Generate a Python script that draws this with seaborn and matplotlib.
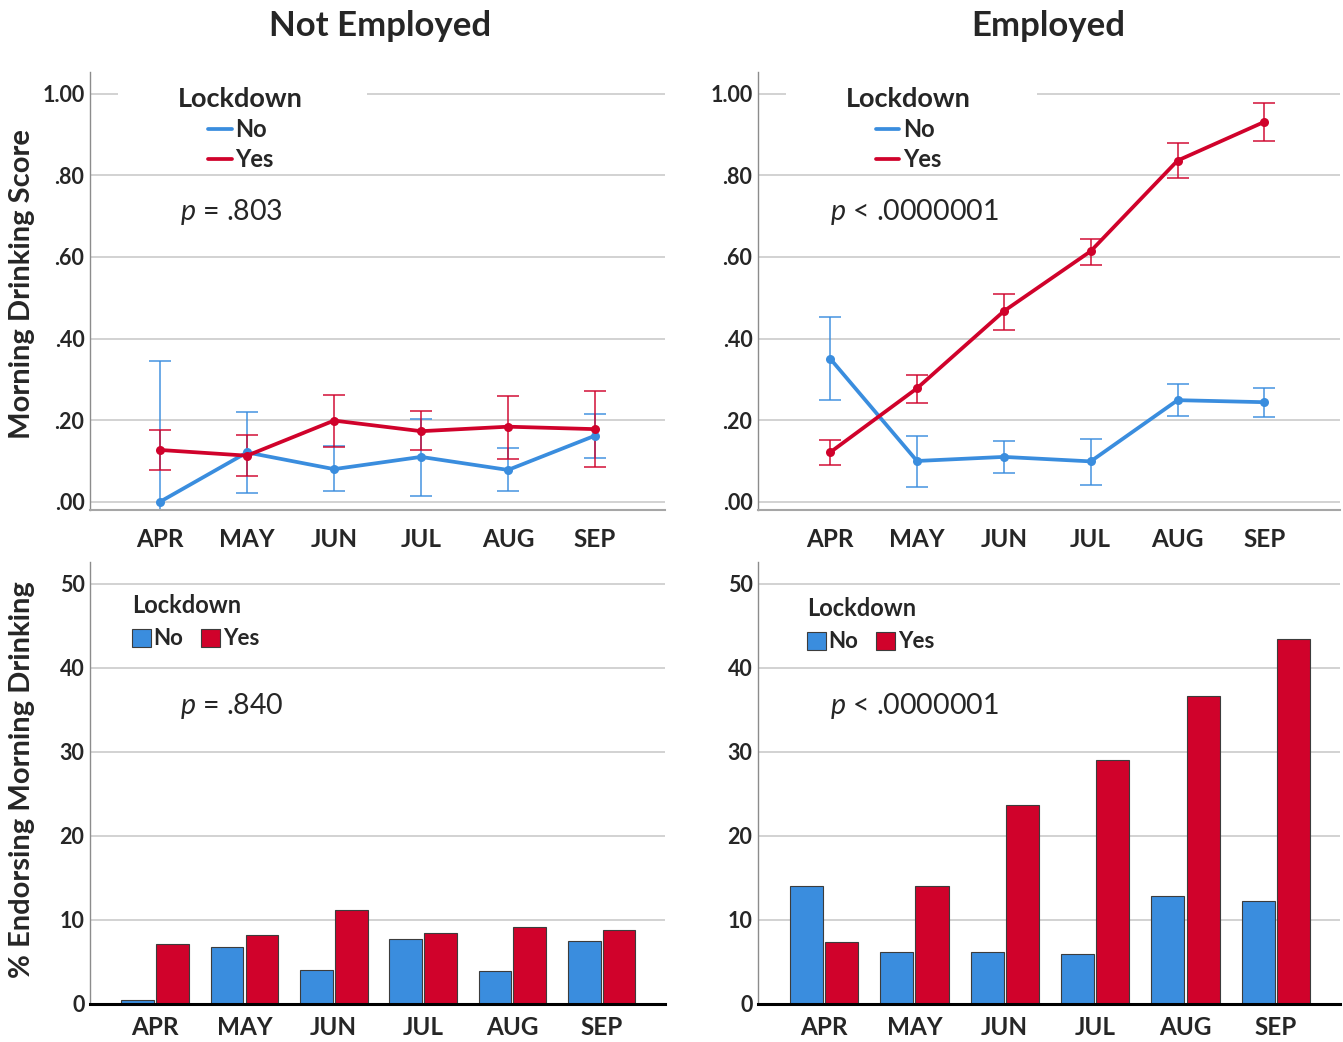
import matplotlib
matplotlib.use('Agg')
import matplotlib.pyplot as plt
import matplotlib.patches as mpatches
from matplotlib.lines import Line2D
import numpy as np
import pandas as pd
import seaborn as sns

months = ['APR', 'MAY', 'JUN', 'JUL', 'AUG', 'SEP']
groups = ['No', 'Yes']

# Morning drinking score, not employed (mean, CI low, CI high)
ne_no = [0.000, 0.121, 0.080, 0.110, 0.078, 0.162]
ne_no_lo = [-0.020, 0.021, 0.027, 0.015, 0.026, 0.108]
ne_no_hi = [0.344, 0.219, 0.136, 0.204, 0.133, 0.215]
ne_yes = [0.127, 0.113, 0.199, 0.173, 0.184, 0.178]
ne_yes_lo = [0.078, 0.064, 0.134, 0.126, 0.106, 0.086]
ne_yes_hi = [0.177, 0.163, 0.261, 0.222, 0.260, 0.271]

# Morning drinking score, employed
em_no = [0.351, 0.100, 0.110, 0.099, 0.249, 0.244]
em_no_lo = [0.249, 0.036, 0.070, 0.042, 0.210, 0.208]
em_no_hi = [0.453, 0.162, 0.150, 0.155, 0.288, 0.279]
em_yes = [0.121, 0.278, 0.467, 0.614, 0.836, 0.931]
em_yes_lo = [0.090, 0.243, 0.422, 0.581, 0.793, 0.885]
em_yes_hi = [0.152, 0.310, 0.510, 0.645, 0.879, 0.976]

# % endorsing morning drinking
ne_pct_no = [0.5, 6.8, 4.0, 7.7, 3.9, 7.5]
ne_pct_yes = [7.1, 8.2, 11.2, 8.4, 9.1, 8.8]
em_pct_no = [14.0, 6.2, 6.2, 5.9, 12.8, 12.2]
em_pct_yes = [7.4, 14.0, 23.7, 29.0, 36.7, 43.4]

score_ticks = [0, 0.2, 0.4, 0.6, 0.8, 1.0]
score_ticklabels = ['.00', '.20', '.40', '.60', '.80', '1.00']
pct_ticks = [0, 10, 20, 30, 40, 50]

p_texts = [r'$p$ = .803', r'$p$ < .0000001', r'$p$ = .840', r'$p$ < .0000001']

BLUE = '#3A8DDE'
RED = '#D0022B'
pal = {'No': BLUE, 'Yes': RED}

sns.set_theme(style='white')
plt.rcParams['font.family'] = ['Lato', 'DejaVu Sans']
plt.rcParams['mathtext.fontset'] = 'custom'
plt.rcParams['mathtext.it'] = 'Lato:italic'
plt.rcParams['mathtext.rm'] = 'Lato'

fig = plt.figure(figsize=(13.43, 10.42), dpi=100)
ax_tl = fig.add_axes([0.0670, 0.5106, 0.4282, 0.4203])
ax_tr = fig.add_axes([0.5644, 0.5106, 0.4334, 0.4203])
ax_bl = fig.add_axes([0.0670, 0.0365, 0.4282, 0.4242])
ax_br = fig.add_axes([0.5644, 0.0365, 0.4334, 0.4242])


def style_axis(ax, yticks, ylabels):
    for s in ['top', 'right']:
        ax.spines[s].set_visible(False)
    ax.spines['left'].set_color('#8c8c8c')
    ax.spines['left'].set_linewidth(1.0)
    ax.set_yticks(yticks)
    ax.set_yticklabels(ylabels, fontsize=15.5, fontweight='bold')
    ax.yaxis.grid(True, color='#cfcfcf', linewidth=1.3)
    ax.xaxis.grid(False)
    ax.set_axisbelow(True)
    ax.tick_params(axis='both', length=0)
    ax.tick_params(axis='y', pad=4)
    ax.set_xlabel('')
    ax.set_ylabel('')


def line_panel(ax, no, no_lo, no_hi, yes, yes_lo, yes_hi, xlim, gap, legx, ptxt, px):
    df = pd.DataFrame({'month': months * 2,
                       'lockdown': ['No'] * 6 + ['Yes'] * 6,
                       'score': no + yes})
    sns.lineplot(data=df, x='month', y='score', hue='lockdown', palette=pal,
                 marker='o', markersize=6.5, markeredgewidth=0, linewidth=2.7,
                 errorbar=None, sort=False, legend=False, ax=ax, zorder=3)
    for m, lo, hi, c in [(no, no_lo, no_hi, BLUE), (yes, yes_lo, yes_hi, RED)]:
        m = np.array(m)
        ax.errorbar(months, m, yerr=[m - np.array(lo), np.array(hi) - m], fmt='none',
                    ecolor=c, elinewidth=1.3, capsize=8, capthick=1.3, alpha=0.8, zorder=2)
    ax.set_xlim(*xlim)
    ax.set_ylim(-0.02, 1.053)
    style_axis(ax, score_ticks, score_ticklabels)
    ax.spines['bottom'].set_color('#a6a6a6')
    ax.spines['bottom'].set_linewidth(1.5)
    ax.set_xticks(range(len(months)))
    ax.set_xticklabels(months, fontsize=17.5, fontweight='bold')
    ax.tick_params(axis='x', pad=13)
    # white box behind the legend breaks the top grid line
    ax.add_patch(mpatches.Rectangle((gap[0], 0.92), gap[1] - gap[0], 0.08,
                                    transform=ax.transAxes, facecolor='white',
                                    edgecolor='none', zorder=1))
    handles = [Line2D([], [], color=pal[g], linewidth=2.7) for g in groups]
    ax.legend(handles, groups, title='Lockdown', loc='upper left',
              bbox_to_anchor=(legx, 0.993), frameon=False, borderpad=0,
              handlelength=1.0, handletextpad=0.15, labelspacing=0.3,
              prop={'size': 17, 'weight': 'bold'},
              title_fontproperties={'size': 19.5, 'weight': 'bold'})
    ax.text(px, 0.68, ptxt, transform=ax.transAxes, fontsize=20.5, va='center')


def bar_panel(ax, no, yes, xlim, legx, legy, ptxt, px):
    df = pd.DataFrame({'month': months * 2,
                       'lockdown': ['No'] * 6 + ['Yes'] * 6,
                       'pct': no + yes})
    sns.barplot(data=df, x='month', y='pct', hue='lockdown', palette=pal,
                width=0.78, gap=0.06, edgecolor='#3c3c3c', linewidth=0.8,
                saturation=1, ax=ax)
    ax.set_xlim(*xlim)
    ax.set_ylim(0, 52.6)
    style_axis(ax, pct_ticks, [str(t) for t in pct_ticks])
    ax.spines['bottom'].set_color('black')
    ax.spines['bottom'].set_linewidth(2.2)
    ax.set_xticks(range(len(months)))
    ax.set_xticklabels(months, fontsize=17.5, fontweight='bold')
    ax.tick_params(axis='x', pad=9)
    handles, labels = ax.get_legend_handles_labels()
    ax.legend(handles, labels, title='Lockdown', loc='upper left',
              bbox_to_anchor=(legx, legy), frameon=False, borderpad=0, ncol=2,
              handlelength=0.85, handleheight=0.85, handletextpad=0.12,
              columnspacing=0.8, alignment='left',
              prop={'size': 16, 'weight': 'bold'},
              title_fontproperties={'size': 17, 'weight': 'bold'})
    ax.text(px, 0.675, ptxt, transform=ax.transAxes, fontsize=20.5, va='center')


line_panel(ax_tl, ne_no, ne_no_lo, ne_no_hi, ne_yes, ne_yes_lo, ne_yes_hi,
           (-0.805, 5.805), (0.049, 0.482), 0.133, p_texts[0], 0.157)
line_panel(ax_tr, em_no, em_no_lo, em_no_hi, em_yes, em_yes_lo, em_yes_hi,
           (-0.83, 5.87), (0.048, 0.479), 0.131, p_texts[1], 0.124)
bar_panel(ax_bl, ne_pct_no, ne_pct_yes, (-0.73, 5.71), 0.054, 0.952, p_texts[2], 0.157)
bar_panel(ax_br, em_pct_no, em_pct_yes, (-0.73, 5.71), 0.065, 0.945, p_texts[3], 0.124)

fig.text(380 / 1343, 1 - 26 / 1042, 'Not Employed', ha='center', va='center',
         fontsize=25, fontweight='bold')
fig.text(1048 / 1343, 1 - 26 / 1042, 'Employed', ha='center', va='center',
         fontsize=25, fontweight='bold')
fig.text(22 / 1343, 1 - 284 / 1042, 'Morning Drinking Score', rotation=90,
         ha='center', va='center', fontsize=21, fontweight='bold')
fig.text(22 / 1343, 1 - 780 / 1042, '% Endorsing Morning Drinking', rotation=90,
         ha='center', va='center', fontsize=21, fontweight='bold')

fig.savefig('out.png', dpi=100, facecolor='white')
